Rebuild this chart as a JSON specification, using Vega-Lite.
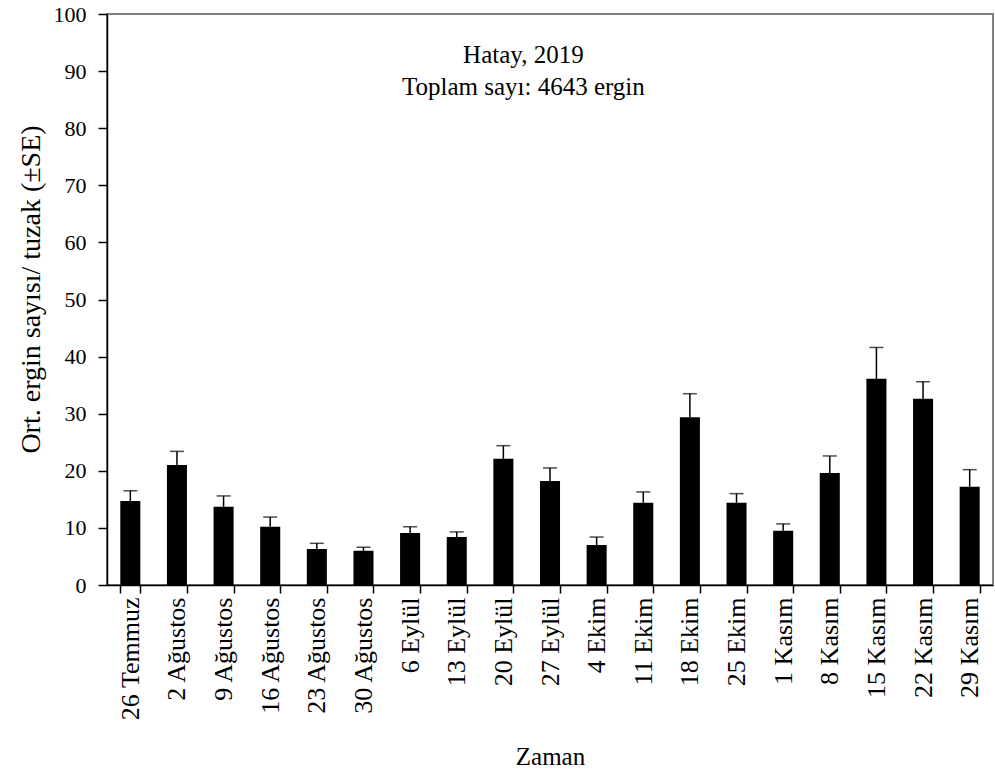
{
  "$schema": "https://vega.github.io/schema/vega-lite/v6.json",
  "width": 886,
  "height": 571,
  "autosize": "none",
  "padding": {"left": 107, "top": 14, "right": 2, "bottom": 187},
  "background": "white",
  "config": {
    "font": "Liberation Serif",
    "style": {"guide-label": {"font": "Liberation Serif"}, "guide-title": {"font": "Liberation Serif"}},
    "view": {"stroke": "#808080", "strokeWidth": 2},
    "axis": {"domainColor": "black", "tickColor": "black", "labelColor": "black", "titleColor": "black", "domainWidth": 1.5, "tickWidth": 1.5, "grid": false, "labelFont": "Liberation Serif", "titleFont": "Liberation Serif", "titleFontWeight": "normal"},
    "axisY": {"labelFont": "Liberation Serif", "labelFontSize": 22}
  },
  "data": {"values": [
    {"date": "26 Temmuz", "mean": 14.7, "upper": 16.5},
    {"date": "2 Ağustos", "mean": 21.0, "upper": 23.4},
    {"date": "9 Ağustos", "mean": 13.7, "upper": 15.6},
    {"date": "16 Ağustos", "mean": 10.2, "upper": 11.9},
    {"date": "23 Ağustos", "mean": 6.3, "upper": 7.3},
    {"date": "30 Ağustos", "mean": 6.0, "upper": 6.6},
    {"date": "6 Eylül", "mean": 9.1, "upper": 10.2},
    {"date": "13 Eylül", "mean": 8.4, "upper": 9.3},
    {"date": "20 Eylül", "mean": 22.1, "upper": 24.4},
    {"date": "27 Eylül", "mean": 18.2, "upper": 20.5},
    {"date": "4 Ekim", "mean": 7.0, "upper": 8.4},
    {"date": "11 Ekim", "mean": 14.4, "upper": 16.3},
    {"date": "18 Ekim", "mean": 29.4, "upper": 33.5},
    {"date": "25 Ekim", "mean": 14.4, "upper": 16.0},
    {"date": "1 Kasım", "mean": 9.5, "upper": 10.7},
    {"date": "8 Kasım", "mean": 19.6, "upper": 22.6},
    {"date": "15 Kasım", "mean": 36.1, "upper": 41.6},
    {"date": "22 Kasım", "mean": 32.6, "upper": 35.6},
    {"date": "29 Kasım", "mean": 17.2, "upper": 20.2}
  ]},
  "encoding": {
    "x": {
      "field": "date", "type": "nominal", "sort": null,
      "scale": {"paddingInner": 0.57, "paddingOuter": 0.285},
      "axis": {"title": "Zaman", "titleFontSize": 25, "titlePadding": 24, "labelAngle": 270, "labelAlign": "right", "labelBaseline": "middle", "labelFontSize": 26, "labelPadding": 4, "tickSize": 8, "tickBand": "extent", "labelLimit": 300}
    },
    "y": {"field": "mean", "type": "quantitative", "scale": {"domain": [0, 100], "nice": false},
      "axis": {"title": "Ort. ergin sayısı/ tuzak (±SE)", "titleFontSize": 28, "titlePadding": 8, "titleY": 275, "values": [0,10,20,30,40,50,60,70,80,90,100], "labelFontSize": 22, "labelFont": "Liberation Serif", "tickSize": 9, "labelPadding": 12}}
  },
  "layer": [
    {
      "mark": {"type": "bar", "color": "black"}
    },
    {
      "mark": {"type": "rule", "color": "black", "strokeWidth": 1.5},
      "encoding": {"y2": {"field": "upper"}}
    },
    {
      "mark": {"type": "tick", "color": "black", "thickness": 1.5, "size": 14, "orient": "horizontal"},
      "encoding": {"y": {"field": "upper", "type": "quantitative"}}
    },
    {
      "data": {"values": [
        {"line": "Hatay, 2019", "pos": 91.4},
        {"line": "Toplam sayı: 4643 ergin", "pos": 85.8}
      ]},
      "mark": {"type": "text", "font": "Liberation Serif", "fontSize": 25, "color": "black", "align": "center", "baseline": "alphabetic", "dx": 20},
      "encoding": {
        "x": {"datum": "20 Eylül"},
        "y": {"field": "pos", "type": "quantitative"},
        "text": {"field": "line"}
      }
    }
  ]
}
